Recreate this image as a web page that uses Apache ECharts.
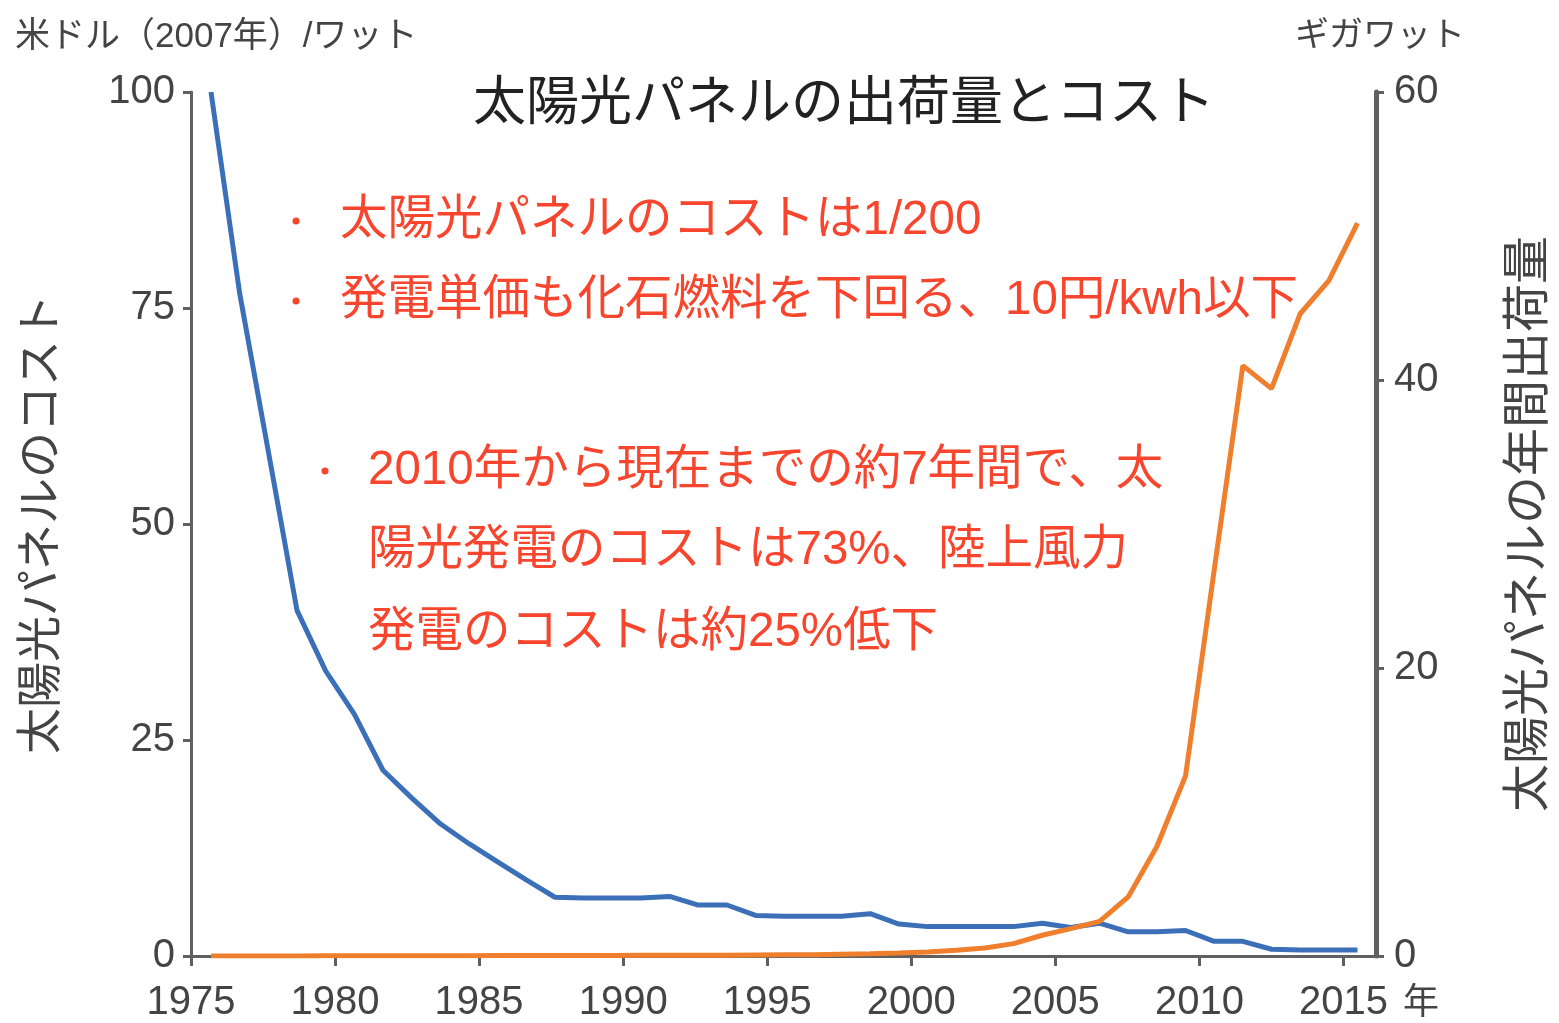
<!DOCTYPE html>
<html>
<head>
<meta charset="utf-8">
<title>太陽光パネルの出荷量とコスト</title>
<script src="https://cdn.jsdelivr.net/npm/echarts@6/dist/echarts.min.js"></script>
<style>
  html, body { margin: 0; padding: 0; background: #fff; }
  #chart { width: 1559px; height: 1023px; }
</style>
</head>
<body>
<div id="chart"></div>
<script>
// 年 (データ)
const years = [];
for (let y = 1975; y <= 2015; y++) years.push(String(y));

// 太陽光パネルのコスト 米ドル(2007年)/ワット
const costData = [
  100, 76.7, 58.4, 40, 33, 28, 21.5, 18.3, 15.3, 13.0,
  10.9, 8.8, 6.8, 6.7, 6.7, 6.7, 6.9, 5.9, 5.9, 4.7,
  4.6, 4.6, 4.6, 4.9, 3.7, 3.4, 3.4, 3.4, 3.4, 3.8,
  3.3, 3.8, 2.8, 2.8, 2.95, 1.7, 1.7, 0.78, 0.7, 0.7,
  0.68
];

// 年間出荷量 ギガワット
const shipData = [
  0, 0, 0, 0, 0.01, 0.01, 0.01, 0.02, 0.02, 0.02,
  0.03, 0.03, 0.03, 0.04, 0.04, 0.05, 0.05, 0.06, 0.06, 0.07,
  0.08, 0.09, 0.12, 0.15, 0.2, 0.28, 0.4, 0.55, 0.86, 1.44,
  1.9, 2.4, 4.1, 7.6, 12.5, 26.8, 41.0, 39.4, 44.6, 46.9,
  50.9
];

const costTicks = { min: 0, max: 100, interval: 25 };
const shipTicks = { min: 0, max: 60, interval: 20 };
const yearTicks = { min: 1975, max: 2016.13, interval: 5 };

const notes = [
  { bullet: true, text: '太陽光パネルのコストは1/200', x: 340, y: 221, bx: 296 },
  { bullet: true, text: '発電単価も化石燃料を下回る、10円/kwh以下', x: 340, y: 301, bx: 296 },
  { bullet: true, text: '2010年から現在までの約7年間で、太', x: 368, y: 471, bx: 325 },
  { bullet: false, text: '陽光発電のコストは73%、陸上風力', x: 368, y: 551 },
  { bullet: false, text: '発電のコストは約25%低下', x: 368, y: 633 }
];

const FONT = '"Liberation Sans", "Noto Sans CJK JP", sans-serif';
const AXIS_COLOR = '#606060';
const LABEL_COLOR = '#444';
const RED = '#f7452e';

const chart = echarts.init(document.getElementById('chart'));

const graphic = [
  { type: 'text', left: 15, top: 20,
    style: { text: '米ドル（2007年）/ワット', font: '35px ' + FONT, fill: LABEL_COLOR } },
  { type: 'text', left: 1295, top: 20,
    style: { text: 'ギガワット', font: '34px ' + FONT, fill: LABEL_COLOR } },
  { type: 'text', x: 1403, y: 1004,
    style: { text: '年', font: '36px ' + FONT, fill: LABEL_COLOR, verticalAlign: 'middle' } }
];
notes.forEach(n => {
  if (n.bullet) {
    graphic.push({ type: 'circle', shape: { cx: n.bx, cy: n.y, r: 3.5 }, style: { fill: RED } });
  }
  graphic.push({
    type: 'text', x: n.x, y: n.y,
    style: { text: n.text, font: '47.5px ' + FONT, fill: RED, verticalAlign: 'middle' }
  });
});

const option = {
  animation: false,
  backgroundColor: '#fff',
  title: {
    text: '太陽光パネルの出荷量とコスト',
    left: 839, top: 74, textAlign: 'center',
    textStyle: { fontFamily: FONT, fontSize: 53, fontWeight: 'normal', color: '#222' }
  },
  grid: [
    // 目盛り用
    { left: 191, right: 183, top: 92, bottom: 67, outerBoundsMode: 'none', containLabel: false },
    // データ用
    { left: 211, right: 201.5, top: 92, bottom: 67, outerBoundsMode: 'none', containLabel: false }
  ],
  xAxis: [
    {
      type: 'value', gridIndex: 0,
      min: yearTicks.min, max: yearTicks.max, interval: yearTicks.interval,
      splitLine: { show: false },
      axisLine: { lineStyle: { color: AXIS_COLOR, width: 3 } },
      axisTick: { length: 10, lineStyle: { color: AXIS_COLOR, width: 3 } },
      axisLabel: {
        showMaxLabel: false, margin: 27, color: LABEL_COLOR, fontSize: 40, fontFamily: FONT,
        formatter: v => String(v)
      }
    },
    {
      type: 'category', gridIndex: 1, data: years, boundaryGap: false, show: false
    }
  ],
  yAxis: [
    {
      type: 'value', gridIndex: 0, position: 'left',
      min: costTicks.min, max: costTicks.max, interval: costTicks.interval,
      name: '太陽光パネルのコスト', nameLocation: 'middle', nameRotate: 90, nameGap: 126,
      nameTextStyle: { fontFamily: FONT, fontSize: 46, color: LABEL_COLOR },
      splitLine: { show: false },
      axisLine: { show: true, lineStyle: { color: AXIS_COLOR, width: 3 } },
      axisTick: { show: true, length: 8, lineStyle: { color: AXIS_COLOR, width: 3 } },
      axisLabel: { margin: 16, color: LABEL_COLOR, fontSize: 40, fontFamily: FONT }
    },
    {
      type: 'value', gridIndex: 0, position: 'right',
      min: shipTicks.min, max: shipTicks.max, interval: shipTicks.interval,
      name: '太陽光パネルの年間出荷量', nameLocation: 'middle', nameRotate: 90, nameGap: 130,
      nameTextStyle: { fontFamily: FONT, fontSize: 48, color: LABEL_COLOR },
      splitLine: { show: false },
      axisLine: { show: true, lineStyle: { color: AXIS_COLOR, width: 5 } },
      axisTick: { show: true, length: 8, lineStyle: { color: AXIS_COLOR, width: 3 } },
      axisLabel: { margin: 18, color: LABEL_COLOR, fontSize: 40, fontFamily: FONT }
    },
    { type: 'value', gridIndex: 1, min: costTicks.min, max: costTicks.max, show: false, splitLine: { show: false } },
    { type: 'value', gridIndex: 1, min: shipTicks.min, max: shipTicks.max, show: false, splitLine: { show: false } }
  ],
  series: [
    {
      name: 'コスト', type: 'line', xAxisIndex: 1, yAxisIndex: 2,
      data: costData, showSymbol: false,
      lineStyle: { color: '#3b70b8', width: 5 }, itemStyle: { color: '#3b70b8' }
    },
    {
      name: '年間出荷量', type: 'line', xAxisIndex: 1, yAxisIndex: 3,
      data: shipData, showSymbol: false,
      lineStyle: { color: '#ef7f2d', width: 5 }, itemStyle: { color: '#ef7f2d' }
    }
  ],
  graphic: graphic
};

chart.setOption(option);
</script>
</body>
</html>
